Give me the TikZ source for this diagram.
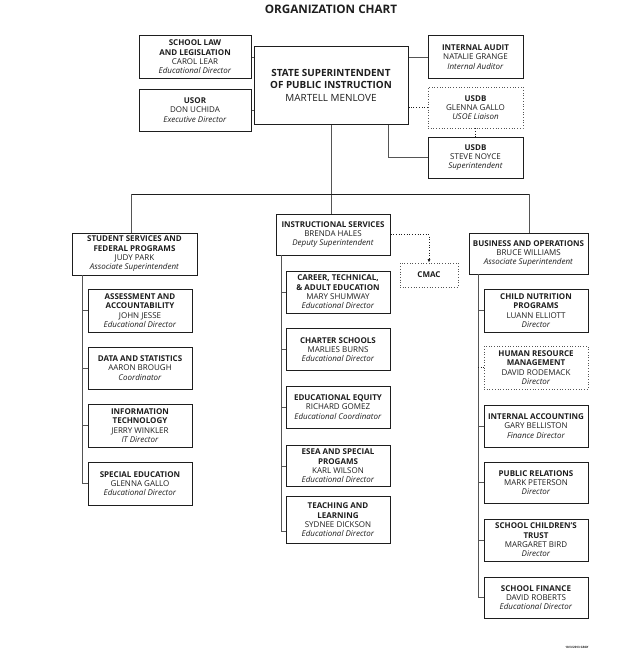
\documentclass[tikz,border=0pt]{standalone}
\usepackage{fontspec}
\setmainfont{Open Sans}
\usetikzlibrary{arrows.meta}
\definecolor{ink}{HTML}{1E1E1E}
\definecolor{lnk}{HTML}{555555}
\tikzset{
  box/.style={draw=ink, line width=1pt, fill=white, align=center, inner sep=1pt,
    text=ink, font=\fontsize{8}{9.3}\selectfont},
  dbox/.style={box, draw=lnk, line width=0.7pt, dotted},
  sz/.style 2 args={minimum width=#1pt, minimum height=#2pt},
  conn/.style={draw=lnk, line width=0.8pt},
  dconn/.style={draw=ink, line width=0.7pt, dotted},
}
\newcommand{\bt}[1]{\textbf{#1}}
\newcommand{\rl}[1]{\textit{#1}}
\begin{document}
\begin{tikzpicture}[x=1pt,y=-1pt]
\useasboundingbox (0,0) rectangle (633,661);
\node[font=\bfseries\fontsize{11.7}{13}\selectfont, text=ink] (title) at (331,9) {ORGANIZATION CHART};

% top row
\node[box, sz={112}{42}] (law) at (195,57) {\bt{SCHOOL LAW}\\\bt{AND LEGISLATION}\\CAROL LEAR\\\rl{Educational Director}};
\node[box, sz={112}{42}] (usor) at (195,110) {\bt{USOR}\\DON UCHIDA\\\rl{Executive Director}};
\node[box, sz={154}{77}, font=\fontsize{9.9}{11.8}\selectfont] (super) at (331,85.5) {\bt{STATE SUPERINTENDENT}\\\bt{OF PUBLIC INSTRUCTION}\\[2pt]MARTELL MENLOVE};
\node[box, sz={95}{42}] (audit) at (475.5,57) {\bt{INTERNAL AUDIT}\\NATALIE GRANGE\\\rl{Internal Auditor}};
\node[dbox, sz={95}{41}] (usdb1) at (475.5,107.5) {\bt{USDB}\\GLENNA GALLO\\\rl{USOE Liaison}};
\node[box, sz={95}{41}] (usdb2) at (475.5,157.5) {\bt{USDB}\\STEVE NOYCE\\\rl{Superintendent}};

% division heads
\node[box, sz={125}{42}] (student) at (134.5,254) {\bt{STUDENT SERVICES AND}\\\bt{FEDERAL PROGRAMS}\\JUDY PARK\\\rl{Associate Superintendent}};
\node[box, sz={114}{41}] (instr) at (333,234.5) {\bt{INSTRUCTIONAL SERVICES}\\BRENDA HALES\\\rl{Deputy Superintendent}};
\node[dbox, sz={58}{24}] (cmac) at (429,275) {\bt{CMAC}};
\node[box, sz={119}{41}] (business) at (528.5,253.5) {\bt{BUSINESS AND OPERATIONS}\\BRUCE WILLIAMS\\\rl{Associate Superintendent}};

% left column
\node[box, sz={104}{43}] (assess) at (140,310.5) {\bt{ASSESSMENT AND}\\\bt{ACCOUNTABILITY}\\JOHN JESSE\\\rl{Educational Director}};
\node[box, sz={104}{42}] (data) at (140,368) {\bt{DATA AND STATISTICS}\\AARON BROUGH\\\rl{Coordinator}};
\node[box, sz={104}{43}] (itech) at (140,425.5) {\bt{INFORMATION}\\\bt{TECHNOLOGY}\\JERRY WINKLER\\\rl{IT Director}};
\node[box, sz={104}{43}] (sped) at (140,483.5) {\bt{SPECIAL EDUCATION}\\GLENNA GALLO\\\rl{Educational Director}};

% middle column
\node[box, sz={104}{42}] (career) at (338,292) {\bt{CAREER, TECHNICAL,}\\\bt{\& ADULT EDUCATION}\\MARY SHUMWAY\\\rl{Educational Director}};
\node[box, sz={104}{42}] (charter) at (338,349.5) {\bt{CHARTER SCHOOLS}\\MARLIES BURNS\\\rl{Educational Director}};
\node[box, sz={104}{42}] (equity) at (338,407) {\bt{EDUCATIONAL EQUITY}\\RICHARD GOMEZ\\\rl{Educational Coordinator}};
\node[box, sz={104}{41}] (esea) at (338,466) {\bt{ESEA AND SPECIAL}\\\bt{PROGAMS}\\KARL WILSON\\\rl{Educational Director}};
\node[box, sz={104}{47}] (teach) at (338,520) {\bt{TEACHING AND}\\\bt{LEARNING}\\SYDNEE DICKSON\\\rl{Educational Director}};

% right column
\node[box, sz={104}{43}] (nutr) at (536,310.5) {\bt{CHILD NUTRITION}\\\bt{PROGRAMS}\\LUANN ELLIOTT\\\rl{Director}};
\node[dbox, sz={104}{43}] (hr) at (536,367.5) {\bt{HUMAN RESOURCE}\\\bt{MANAGEMENT}\\DAVID RODEMACK\\\rl{Director}};
\node[box, sz={104}{42}] (acct) at (536,426) {\bt{INTERNAL ACCOUNTING}\\GARY BELLISTON\\\rl{Finance Director}};
\node[box, sz={104}{41}] (pr) at (536,482.5) {\bt{PUBLIC RELATIONS}\\MARK PETERSON\\\rl{Director}};
\node[box, sz={104}{42}] (trust) at (536,540) {\bt{SCHOOL CHILDREN'S}\\\bt{TRUST}\\MARGARET BIRD\\\rl{Director}};
\node[box, sz={104}{41}] (fin) at (536,597.5) {\bt{SCHOOL FINANCE}\\DAVID ROBERTS\\\rl{Educational Director}};

\node[font=\bfseries\fontsize{3}{3.5}\selectfont, text=ink] (stamp) at (577,647) {10/3/2013 GRAY};

% coordinates
\coordinate (barL) at (131,194);
\coordinate (barR) at (529,194);
\coordinate (s2) at (388,124);
\coordinate (lt) at (82,275);
\coordinate (mt) at (281,255);
\coordinate (rt) at (478,274);

% top connectors
\draw[conn] (law.east) -- (law.east -| super.west);
\draw[conn] (usor.east) -- (usor.east -| super.west);
\draw[conn] (audit.west) -- (audit.west -| super.east);
\draw[dconn] (usdb1.west) -- (usdb1.west -| super.east);
\draw[dconn] (usdb1.south) -- (usdb2.north);
\draw[conn] (super.south -| s2) |- (usdb2.west);
\draw[conn] (super.south) -- (super.south |- instr.north);
\draw[draw=ink, line width=0.8pt] (barL) -- (barR);
\draw[conn] (barL) -- (barL |- student.north);
\draw[conn] (barR) -- (barR |- business.north);
\draw[dconn, -{Latex[length=3.5pt,width=3pt]}] (instr.east) -| (cmac.north);

% left trunk
\draw[conn] (lt) |- (sped.west);
\draw[conn] (assess.west -| lt) -- (assess.west);
\draw[conn] (data.west -| lt) -- (data.west);
\draw[conn] (itech.west -| lt) -- (itech.west);

% middle trunk
\draw[conn] (mt) |- ([yshift=-11pt]teach.west);
\draw[conn] (career.west -| mt) -- (career.west);
\draw[conn] (charter.west -| mt) -- (charter.west);
\draw[conn] (equity.west -| mt) -- (equity.west);
\draw[conn] (esea.west -| mt) -- (esea.west);

% right trunk
\draw[conn] (rt) |- (fin.west);
\draw[conn] (nutr.west -| rt) -- (nutr.west);
\draw[dconn] (hr.west -| rt) -- (hr.west);
\draw[conn] (acct.west -| rt) -- (acct.west);
\draw[conn] (pr.west -| rt) -- (pr.west);
\draw[conn] (trust.west -| rt) -- (trust.west);
\end{tikzpicture}
\end{document}
